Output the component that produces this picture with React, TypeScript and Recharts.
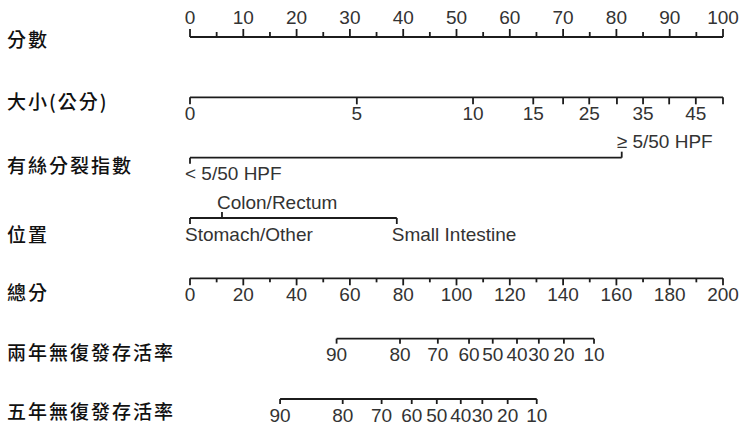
import React from 'react';
import { ComposedChart, Scatter, XAxis, YAxis } from 'recharts';

// row titles, top to bottom
const rowNames = ['分數', '大小(公分)', '有絲分裂指數', '位置', '總分', '兩年無復發存活率', '五年無復發存活率'];

// points scale (0-100)
const pointMajor = [0, 10, 20, 30, 40, 50, 60, 70, 80, 90, 100];
const pointMinor = [5, 15, 25, 35, 45, 55, 65, 75, 85, 95];

// tumour size (cm) -> points
const sizeValues = [0, 5, 10, 15, 20, 25, 30, 35, 40, 45, 50];
const sizePoints = [0, 31.3, 53.1, 64.4, 70, 74.9, 80.1, 85, 89.9, 94.9, 100];
const sizeLabels = ['0', '5', '10', '15', '', '25', '', '35', '', '45', ''];

// mitotic index -> points
const mitoticLevels = ['< 5/50 HPF', '≥ 5/50 HPF'];
const mitoticPoints = [0, 81];

// location -> points
const locationLevels = ['Stomach/Other', 'Colon/Rectum', 'Small Intestine'];
const locationPoints = [0, 6, 38.8];

// total points scale (0-200)
const totalMajor = [0, 20, 40, 60, 80, 100, 120, 140, 160, 180, 200];
const totalMinor = [10, 30, 50, 70, 90, 110, 130, 150, 170, 190];

// survival probability (%) -> total points
const survivalTicks = [90, 80, 70, 60, 50, 40, 30, 20, 10];
const twoYearTotal = [55, 78.8, 93, 104.7, 113.6, 122.7, 130.9, 140.3, 151.6];
const fiveYearTotal = [33.8, 57.3, 71.9, 83.2, 92.6, 101.6, 109.7, 119.2, 130.1];

// labels that sit above their scale line
const upperLevels = ['≥ 5/50 HPF', 'Colon/Rectum'];
const rowLabelShift = [1, 3, 7, 15, 13, 13, 11];

const INK = '#1c1c1c';
const TEXT = '#333';
const FONT = '"Liberation Sans", Arial, sans-serif';

type Tick = { x: number; y: number; label: string; minor?: boolean; side: 'up' | 'down'; cat?: boolean };

const sortByX = (t: Tick[]) => [...t].sort((a, b) => a.x - b.x);

const pointsRow: Tick[] = sortByX([
  ...pointMajor.map((v) => ({ x: v, y: 0, label: String(v), side: 'up' as const })),
  ...pointMinor.map((v) => ({ x: v, y: 0, label: '', minor: true, side: 'up' as const })),
]);
const sizeRow: Tick[] = sizeValues.map((_, i) => ({ x: sizePoints[i], y: 1, label: sizeLabels[i], side: 'down' }));
const mitoticRow: Tick[] = mitoticLevels.map((l, i) => ({
  x: mitoticPoints[i], y: 2, label: l, cat: true, side: upperLevels.includes(l) ? 'up' : 'down',
}));
const locationRow: Tick[] = locationLevels.map((l, i) => ({
  x: locationPoints[i], y: 3, label: l, cat: true, side: upperLevels.includes(l) ? 'up' : 'down',
}));
const totalRow: Tick[] = sortByX([
  ...totalMajor.map((v) => ({ x: v, y: 4, label: String(v), side: 'down' as const })),
  ...totalMinor.map((v) => ({ x: v, y: 4, label: '', minor: true, side: 'down' as const })),
]);
const twoYearRow: Tick[] = survivalTicks.map((s, i) => ({ x: twoYearTotal[i], y: 5, label: String(s), side: 'down' }));
const fiveYearRow: Tick[] = survivalTicks.map((s, i) => ({ x: fiveYearTotal[i], y: 6, label: String(s), side: 'down' }));

const makeShape = (major: number, minor: number, gap: number) => (props: any) => {
  const { cx, cy, payload } = props;
  const up = payload.side === 'up';
  const len = payload.minor ? minor : major;
  return (
    <g>
      <line x1={cx} x2={cx} y1={cy} y2={up ? cy - len : cy + len} stroke={INK} strokeWidth={1.8} />
      {payload.label ? (
        <text
          x={payload.cat ? cx - 5 : cx}
          y={up ? cy - gap : cy + gap}
          textAnchor={payload.cat ? 'start' : 'middle'}
          dominantBaseline="central"
          fontFamily={FONT}
          fontSize={19}
          fill={TEXT}
        >
          {payload.label}
        </text>
      ) : null}
    </g>
  );
};

const RowLabel = (props: any) => {
  const { y, payload } = props;
  const i = payload.value as number;
  return (
    <text
      x={7}
      y={y + rowLabelShift[i]}
      dominantBaseline="central"
      fontFamily='"Noto Sans CJK TC", serif'
      fontSize={19}
      fontWeight={500}
      letterSpacing={2}
      fill="#111"
    >
      {rowNames[i]}
    </text>
  );
};

const lineStyle = { stroke: INK, strokeWidth: 1.8 };

export default function App() {
  return (
    <div style={{ width: 741, height: 425 }}>
      <style>{'body{margin:0;background:#fff}'}</style>
      <ComposedChart width={741} height={425} margin={{ top: 37, right: 18, bottom: 26, left: 0 }}>
        <XAxis xAxisId="pts" type="number" dataKey="x" domain={[0, 100]} hide />
        <XAxis xAxisId="tot" type="number" dataKey="x" domain={[0, 200]} hide />
        <YAxis
          type="number"
          dataKey="y"
          domain={[0, 6]}
          reversed
          width={190}
          ticks={[0, 1, 2, 3, 4, 5, 6]}
          tick={<RowLabel />}
          axisLine={false}
          tickLine={false}
        />
        <Scatter xAxisId="pts" data={pointsRow} line={lineStyle} shape={makeShape(8, 5, 20)} isAnimationActive={false} />
        <Scatter xAxisId="pts" data={sizeRow} line={lineStyle} shape={makeShape(7, 7, 16)} isAnimationActive={false} />
        <Scatter xAxisId="pts" data={mitoticRow} line={lineStyle} shape={makeShape(6, 6, 16)} isAnimationActive={false} />
        <Scatter xAxisId="pts" data={locationRow} line={lineStyle} shape={makeShape(6, 6, 16)} isAnimationActive={false} />
        <Scatter xAxisId="tot" data={totalRow} line={lineStyle} shape={makeShape(7, 4, 16)} isAnimationActive={false} />
        <Scatter xAxisId="tot" data={twoYearRow} line={lineStyle} shape={makeShape(5, 5, 16)} isAnimationActive={false} />
        <Scatter xAxisId="tot" data={fiveYearRow} line={lineStyle} shape={makeShape(5, 5, 16)} isAnimationActive={false} />
      </ComposedChart>
    </div>
  );
}
